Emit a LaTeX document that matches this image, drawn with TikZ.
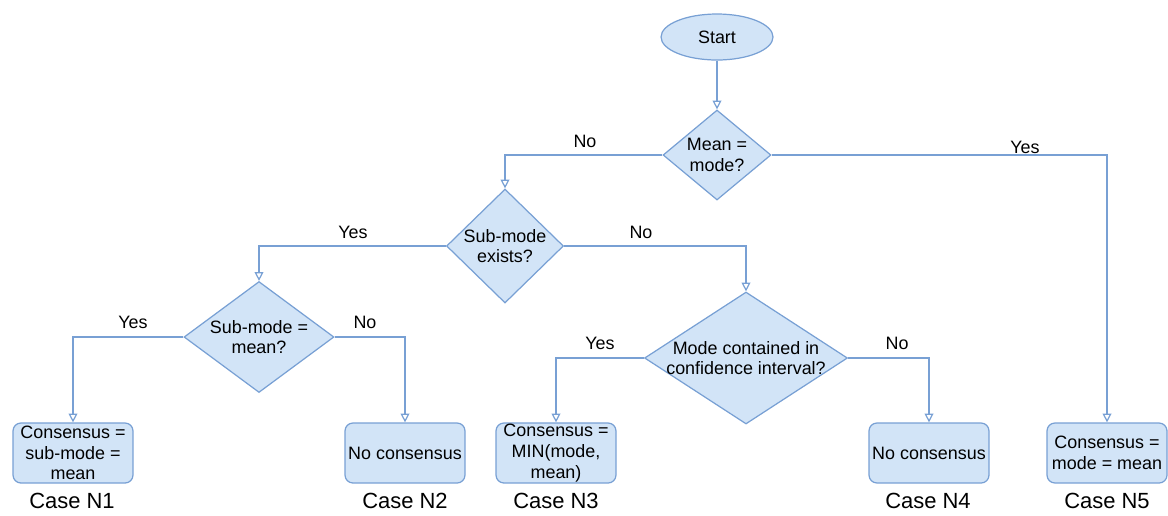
\documentclass[tikz,border=0pt]{standalone}
\usepackage{fontspec}
\setmainfont{Liberation Sans}
\usepackage{xcolor}
\usepackage{tikz}
\usetikzlibrary{positioning,arrows.meta,shapes.geometric}

\definecolor{boxblue}{RGB}{210,228,247}
\definecolor{lineblue}{RGB}{120,160,212}

\tikzset{
  txt/.style={font=\fontsize{10.2}{11.8}\selectfont, align=center, inner sep=0pt},
  startnode/.style={ellipse, draw=lineblue, fill=boxblue, line width=0.7pt,
    minimum width=2.24cm, minimum height=0.92cm, txt},
  decision/.style={diamond, draw=lineblue, fill=boxblue, line width=0.7pt, inner sep=0pt},
  outcome/.style={rectangle, rounded corners=4.5pt, draw=lineblue, fill=boxblue,
    line width=0.7pt, minimum width=2.4cm, minimum height=1.2cm, txt},
  flow/.style={draw=lineblue, line width=0.7pt,
    -{Triangle[open, length=5pt, width=5pt]}},
  answer/.style={txt},
  caselbl/.style={font=\fontsize{12.5}{14}\selectfont, inner sep=0pt},
}

\begin{document}
\begin{tikzpicture}[x=0.02cm, y=-0.02cm]
  \useasboundingbox (0,0) rectangle (1168,515);

  % --- start and first test ---
  \node[startnode] (start) at (717,37) {Start};
  \node[decision, minimum width=2.16cm, minimum height=1.8cm,
    label={[txt]center:Mean =\\mode?}] (meanmode) at (717,155) {};

  % --- second level tests ---
  \node[decision, minimum width=2.34cm, minimum height=2.28cm,
    label={[txt]center:Sub-mode\\exists?}] (subexists) at (505,246) {};
  \node[decision, minimum width=3.0cm, minimum height=2.22cm,
    label={[txt]center:Sub-mode =\\mean?}] (submean) at (259,337) {};
  \node[decision, minimum width=4.06cm, minimum height=2.64cm,
    label={[txt]center:Mode contained in\\confidence interval?}] (modeci) at (746,358) {};

  % --- outcomes ---
  \node[outcome] (n1) at (73,453) {Consensus =\\sub-mode =\\mean};
  \node[outcome] (n2) at (405,453) {No consensus};
  \node[outcome] (n3) at (556,453) {Consensus =\\MIN(mode,\\mean)};
  \node[outcome] (n4) at (929,453) {No consensus};
  \node[outcome] (n5) at (1107,453) {Consensus =\\mode = mean};

  \node[caselbl] (c1) at (72,501) {Case N1};
  \node[caselbl] (c2) at (405,501) {Case N2};
  \node[caselbl] (c3) at (556,501) {Case N3};
  \node[caselbl] (c4) at (928,501) {Case N4};
  \node[caselbl] (c5) at (1107,501) {Case N5};

  % --- connectors ---
  \draw[flow] (start) -- (meanmode);
  \draw[flow] (meanmode.west) -| (subexists.north);
  \draw[flow] (meanmode.east) -| (n5.north);
  \draw[flow] (subexists.west) -| (submean.north);
  \draw[flow] (subexists.east) -| (modeci.north);
  \draw[flow] (submean.west) -| (n1.north);
  \draw[flow] (submean.east) -| (n2.north);
  \draw[flow] (modeci.west) -| (n3.north);
  \draw[flow] (modeci.east) -| (n4.north);

  % --- answers ---
  \node[answer] (no1) at (585,141) {No};
  \node[answer] (yes1) at (1025,147) {Yes};
  \node[answer] (yes2) at (353,232) {Yes};
  \node[answer] (no2) at (641,232) {No};
  \node[answer] (yes3) at (133,322) {Yes};
  \node[answer] (no3) at (365,322) {No};
  \node[answer] (yes4) at (600,343) {Yes};
  \node[answer] (no4) at (897,343) {No};
\end{tikzpicture}
\end{document}
